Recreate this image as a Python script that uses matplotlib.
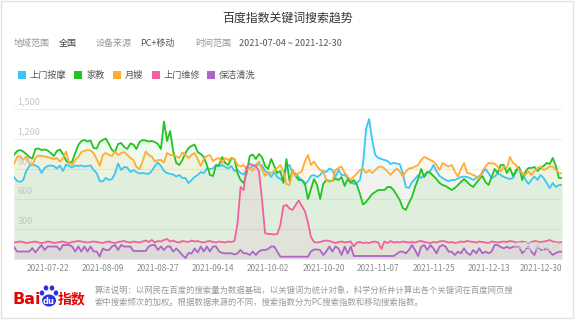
import datetime
import numpy as np
import matplotlib
matplotlib.use('Agg')
import matplotlib.pyplot as plt
from matplotlib.patches import Rectangle, Ellipse
from matplotlib.transforms import blended_transform_factory

plt.rcParams['font.family'] = ['Noto Sans CJK SC', 'DejaVu Sans']

start = datetime.date(2021, 7, 4)
days = np.arange(180)

names = ['上门按摩', '家教', '月嫂', '上门维修', '保洁清洗']
colors = ['#3cc6f4', '#22c322', '#fead33', '#f2609e', '#ad66c8']

# 上门按摩
massage = [
    820, 780, 770, 790, 880, 930, 945, 935, 920, 860,
    910, 930, 935, 930, 905, 935, 880, 945, 930, 915,
    935, 930, 935, 925, 930, 935, 890, 860, 780, 775,
    810, 790, 800, 855, 955, 890, 920, 915, 870, 890,
    870, 855, 860, 855, 850, 880, 930, 965, 930, 880,
    860, 850, 845, 825, 840, 810, 810, 760, 790, 820,
    840, 870, 860, 905, 900, 905, 940, 925, 940, 920,
    905, 930, 880, 890, 860, 845, 895, 910, 930, 940,
    945, 935, 880, 860, 820, 870, 820, 800, 780, 930,
    940, 860, 855, 820, 790, 740, 780, 830, 840, 820,
    840, 880, 870, 905, 890, 820, 890, 840, 840, 810,
    780, 750, 760, 790, 950, 1300, 1400, 1190, 1040, 1010,
    1000, 990, 980, 950, 960, 955, 950, 860, 720, 710,
    770, 800, 840, 810, 840, 870, 880, 940, 880, 830,
    810, 790, 780, 790, 790, 805, 820, 825, 820, 810,
    790, 810, 830, 860, 900, 860, 810, 825, 855, 840,
    820, 810, 800, 810, 870, 910, 860, 800, 750, 790,
    825, 790, 840, 810, 760, 710, 760, 720, 740, 740,
]

# 家教
tutor = [
    1040, 1080, 1090, 1075, 1050, 1020, 1005, 1100, 1105, 1090,
    1095, 1085, 1060, 1030, 1080, 1095, 1050, 985, 960, 975,
    1060, 1140, 1180, 1190, 1175, 1185, 1110, 1105, 1170, 1190,
    1205, 1150, 1090, 1070, 1150, 1160, 1120, 1100, 1155, 1145,
    1100, 1170, 1190, 1185, 1175, 1180, 1170, 1150, 1100, 1375,
    1180, 1280, 1080, 960, 940, 990, 1060, 1110, 1130, 1145,
    1070, 1050, 1020, 940, 840, 830, 935, 940, 1020, 960,
    940, 1010, 1000, 860, 790, 760, 860, 1030, 1045, 1000,
    1050, 1020, 930, 900, 1000, 930, 860, 880, 760, 1000,
    780, 890, 830, 790, 790, 760, 600, 700, 800, 740,
    600, 750, 790, 780, 780, 805, 790, 820, 730, 800,
    760, 790, 740, 650, 545, 570, 610, 650, 670, 690,
    690, 690, 720, 720, 690, 640, 590, 510, 490, 560,
    620, 720, 800, 900, 820, 870, 860, 830, 800, 760,
    740, 730, 710, 690, 710, 740, 770, 800, 770, 740,
    720, 760, 800, 830, 770, 740, 820, 900, 860, 940,
    940, 860, 910, 830, 890, 920, 790, 870, 910, 910,
    920, 880, 910, 930, 960, 950, 1010, 930, 810, 810,
]

# 月嫂
nanny = [
    950, 1020, 1030, 990, 1025, 960, 940, 1010, 1035, 1030,
    1025, 1020, 1010, 1000, 1010, 975, 1010, 1075, 960, 940,
    990, 1020, 1070, 1080, 1090, 1085, 1060, 1000, 930, 1040,
    1060, 1040, 1030, 1075, 1040, 1060, 1070, 1040, 1010, 990,
    920, 900, 975, 1075, 1040, 1025, 975, 990, 990, 965,
    1060, 1040, 1040, 1025, 1010, 1065, 1040, 1010, 1040, 1060,
    1000, 930, 1000, 1030, 1040, 980, 1000, 1010, 960, 1010,
    990, 1010, 1000, 940, 925, 940, 890, 910, 880, 940,
    975, 900, 830, 870, 860, 880, 910, 940, 880, 750,
    740, 890, 830, 860, 875, 975, 1040, 940, 975, 925,
    890, 875, 790, 770, 780, 890, 910, 925, 860, 825,
    790, 825, 855, 890, 905, 860, 890, 860, 890, 920,
    925, 905, 875, 840, 875, 905, 875, 825, 875, 905,
    910, 925, 940, 990, 1020, 1005, 990, 975, 940, 890,
    960, 940, 925, 940, 875, 825, 900, 960, 860, 855,
    840, 825, 810, 880, 925, 960, 955, 955, 925, 875,
    925, 910, 1020, 960, 940, 890, 860, 840, 875, 840,
    880, 910, 925, 890, 905, 925, 925, 890, 860, 855,
]

# 上门维修
repair = [
    165, 170, 175, 170, 160, 165, 170, 175, 165, 160,
    165, 175, 170, 160, 165, 170, 175, 165, 160, 170,
    175, 180, 175, 170, 165, 170, 175, 170, 165, 160,
    170, 175, 165, 160, 170, 175, 180, 170, 165, 175,
    170, 165, 175, 185, 170, 190, 165, 180, 175, 190,
    200, 175, 185, 170, 165, 180, 175, 170, 185, 175,
    180, 170, 165, 175, 180, 170, 165, 175, 170, 165,
    175, 170, 180, 350, 720, 690, 920, 950, 940, 930,
    880, 600, 260, 250, 250, 245, 250, 340, 530, 540,
    505, 490, 540, 585, 530, 480, 370, 220, 170, 165,
    170, 180, 185, 180, 170, 160, 170, 175, 165, 170,
    175, 125, 165, 170, 160, 165, 160, 170, 175, 165,
    100, 175, 160, 180, 165, 170, 165, 175, 170, 165,
    170, 165, 175, 180, 170, 165, 160, 170, 165, 175,
    180, 175, 165, 170, 160, 165, 175, 170, 180, 175,
    170, 165, 175, 170, 165, 160, 175, 170, 165, 170,
    175, 170, 180, 175, 165, 170, 175, 170, 160, 170,
    180, 175, 170, 175, 180, 190, 175, 170, 165, 170,
]

# 保洁清洗
cleaning = [
    120, 75, 75, 75, 75, 75, 110, 65, 105, 140,
    90, 125, 125, 125, 125, 90, 140, 140, 140, 125,
    75, 125, 75, 125, 75, 125, 75, 75, 25, 105,
    90, 90, 125, 140, 90, 140, 125, 125, 125, 80,
    80, 80, 80, 80, 125, 140, 140, 90, 125, 90,
    125, 125, 75, 105, 75, 40, 10, 60, 55, 105,
    65, 125, 75, 125, 75, 125, 125, 75, 60, 57,
    57, 57, 45, 57, 90, 57, 57, 40, 75, 40,
    75, 90, 90, 100, 125, 125, 75, 23, 23, 23,
    23, 23, 23, 23, 23, 23, 23, 75, 95, 95,
    90, 40, 75, 125, 75, 125, 105, 40, 125, 55,
    125, 30, 30, 30, 30, 30, 30, 30, 30, 30,
    30, 30, 30, 30, 30, 50, 73, 73, 57, 90,
    140, 90, 30, 123, 140, 90, 140, 107, 57, 123,
    140, 123, 73, 73, 40, 73, 57, 107, 60, 40,
    90, 57, 107, 57, 73, 57, 73, 140, 140, 120,
    107, 123, 107, 123, 123, 123, 57, 90, 123, 73,
    40, 123, 90, 90, 107, 73, 40, 60, 73, 73,
]

all_series = [massage, tutor, nanny, repair, cleaning]
y_ticks = [300, 600, 900, 1200, 1500]
x_ticks = [18, 36, 54, 72, 90, 108, 126, 144, 162, 179]
x_labels = [(start + datetime.timedelta(days=int(d))).strftime('%Y-%m-%d') for d in x_ticks]

fig = plt.figure(figsize=(5.76, 3.22), dpi=100)
fig.patch.set_facecolor('white')

ax = fig.add_axes([14 / 576, 1 - 259 / 322, 548 / 576, 150 / 322])
for vals, c in zip(all_series, colors):
    ax.fill_between(days, vals, 0, color=c, alpha=0.08, lw=0)
    ax.plot(days, vals, color=c, lw=1.3, solid_joinstyle='round')

ax.set_xlim(0, 179)
ax.set_ylim(0, 1500)
for s in ax.spines.values():
    s.set_visible(False)
for v in y_ticks:
    ax.axhline(v, color='#eeeeee', lw=0.8, zorder=0)
ax.set_yticks([])
trans = blended_transform_factory(ax.transAxes, ax.transData)
for v in y_ticks:
    ax.text(0.006, v + 25, f'{v:,}', transform=trans, ha='left', va='bottom',
            fontsize=6.5, color='#c4c4c4', clip_on=False)
ax.set_xticks(x_ticks)
ax.set_xticklabels(x_labels, ha='right', fontsize=6, color='#8c8c8c')
ax.tick_params(axis='x', length=0, pad=3.5)

# overlay in pixel coordinates for the header, legend and footer
ov = fig.add_axes([0, 0, 1, 1])
ov.set_xlim(0, 576)
ov.set_ylim(322, 0)
ov.axis('off')

ov.add_patch(Rectangle((1, 1), 572, 317, fill=False, ec='#e2e2e2', lw=1))

ov.text(288, 18, '百度指数关键词搜索趋势', ha='center', va='center', fontsize=8.6, color='#333333')

header = [(14, '地域范围', '#999999'), (59, '全国', '#444444'),
          (96, '设备来源', '#999999'), (140, 'PC+移动', '#555555'),
          (195, '时间范围', '#999999'), (239, '2021-07-04 ~ 2021-12-30', '#555555')]
for x, t, c in header:
    ov.text(x, 43, t, ha='left', va='center', fontsize=6.5, color=c)

legend_x = [18, 74, 113, 152, 207]
for x, n, c in zip(legend_x, names, colors):
    ov.add_patch(Rectangle((x, 71), 8, 8, color=c, lw=0))
    ov.text(x + 12, 75, n, ha='left', va='center', fontsize=6.6, color='#555555')

ov.text(538, 247, '@百度指数', ha='center', va='center', fontsize=7, color='#d6d6d6')

# Baidu logo
ov.text(12, 299, 'Bai', ha='left', va='center', fontsize=11.5, fontweight='bold',
        color='#e10602', family='DejaVu Sans')
ov.add_patch(Ellipse((49, 300.5), 14, 12, color='#2932e1', lw=0))
for tx, ty in [(42, 293), (46, 288), (52, 288), (56, 293)]:
    ov.add_patch(Ellipse((tx, ty), 4.6, 5.2, color='#2932e1', lw=0))
ov.text(49, 301.5, 'du', ha='center', va='center', fontsize=6, fontweight='bold',
        color='white', family='DejaVu Sans')
ov.text(57.5, 299, '指数', ha='left', va='center', fontsize=10, fontweight='bold', color='#e10602')

ov.text(95, 290, '算法说明：以网民在百度的搜索量为数据基础，以关键词为统计对象，科学分析并计算出各个关键词在百度网页搜',
        ha='left', va='center', fontsize=6, color='#999999')
ov.text(95, 302, '索中搜索频次的加权。根据数据来源的不同，搜索指数分为PC搜索指数和移动搜索指数。',
        ha='left', va='center', fontsize=6, color='#999999')

fig.savefig('out.png', dpi=100)
